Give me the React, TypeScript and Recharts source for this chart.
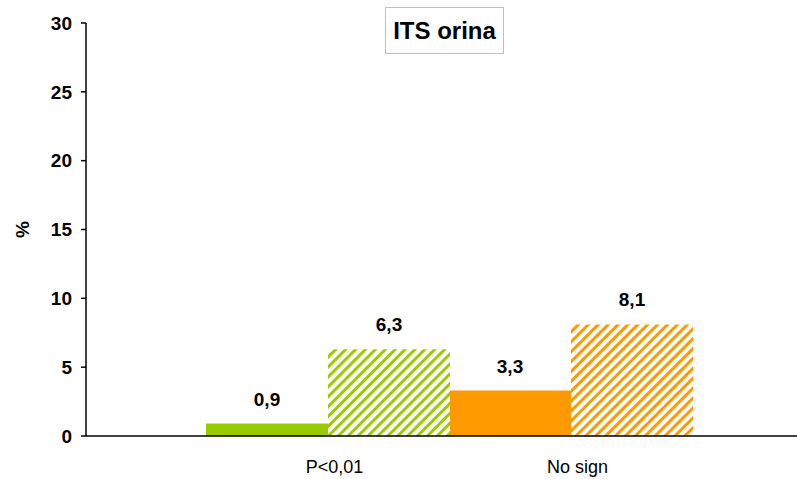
import React from 'react'
import { BarChart, Bar, XAxis, YAxis, Cell, LabelList, Label } from 'recharts'

const categories = ['P<0,01', 'No sign']
const solidValues = [0.9, 3.3]
const hatchedValues = [6.3, 8.1]
const yTicks = [0, 5, 10, 15, 20, 25, 30]

const solidColors = ['#99CC00', '#FF9900']
const hatchIds = ['hatchGreen', 'hatchOrange']

const data = categories.map((name, i) => ({
  name,
  solid: solidValues[i],
  hatched: hatchedValues[i],
}))

const FONT = '"Liberation Sans", Arial, sans-serif'

const commaFormat = (v: any) => String(v).replace('.', ',')

export default function App() {
  return (
    <div
      style={{
        position: 'absolute',
        left: 0,
        top: 0,
        width: 797,
        height: 479,
        background: '#fff',
        fontFamily: FONT,
      }}
    >
      <BarChart
        width={797}
        height={479}
        data={data}
        margin={{ top: 23, right: 0, left: 0, bottom: 0 }}
        barCategoryGap={0}
        barGap={0}
      >
        <defs>
          {solidColors.map((c, i) => (
            <pattern
              key={hatchIds[i]}
              id={hatchIds[i]}
              patternUnits="userSpaceOnUse"
              width={7}
              height={7}
              patternTransform="rotate(45)"
            >
              <rect x={0} y={0} width={7} height={7} fill="#fff" />
              <rect x={0} y={0} width={3} height={7} fill={c} />
            </pattern>
          ))}
        </defs>
        <XAxis
          dataKey="name"
          height={43}
          padding={{ left: 120, right: 105 }}
          axisLine={{ stroke: '#000', strokeWidth: 1.5 }}
          tickLine={false}
          tickSize={0}
          tickMargin={24}
          tick={{ fill: '#000', fontSize: 18, fontFamily: FONT, dx: 7 }}
        />
        <YAxis
          width={86}
          domain={[0, 30]}
          ticks={yTicks}
          interval={0}
          axisLine={{ stroke: '#000', strokeWidth: 1.5 }}
          tickLine={{ stroke: '#000', strokeWidth: 1.5 }}
          tickSize={5}
          tickMargin={9}
          tick={{ fill: '#000', fontSize: 19, fontWeight: 'bold', fontFamily: FONT }}
        >
          <Label
            content={({ viewBox }: any) => {
              const cy = viewBox.y + viewBox.height / 2
              return (
                <text
                  x={22}
                  y={cy}
                  transform={`rotate(-90 22 ${cy})`}
                  textAnchor="middle"
                  dominantBaseline="central"
                  fontSize={19}
                  fontWeight="bold"
                  fontFamily={FONT}
                  fill="#000"
                >
                  %
                </text>
              )
            }}
          />
        </YAxis>
        <Bar dataKey="solid" isAnimationActive={false}>
          {data.map((d, i) => (
            <Cell key={d.name} fill={solidColors[i]} />
          ))}
          <LabelList
            dataKey="solid"
            position="top"
            offset={18}
            formatter={commaFormat}
            style={{ fill: '#000', fontSize: 19, fontWeight: 'bold', fontFamily: FONT }}
          />
        </Bar>
        <Bar dataKey="hatched" isAnimationActive={false}>
          {data.map((d, i) => (
            <Cell key={d.name} fill={`url(#${hatchIds[i]})`} />
          ))}
          <LabelList
            dataKey="hatched"
            position="top"
            offset={18}
            formatter={commaFormat}
            style={{ fill: '#000', fontSize: 19, fontWeight: 'bold', fontFamily: FONT }}
          />
        </Bar>
      </BarChart>
      <div
        style={{
          position: 'absolute',
          left: 385,
          top: 7,
          width: 119,
          height: 47,
          boxSizing: 'border-box',
          border: '1.5px solid #BFBFBF',
          display: 'flex',
          alignItems: 'center',
          justifyContent: 'center',
          fontSize: 24,
          fontWeight: 'bold',
          fontFamily: FONT,
          color: '#000',
          background: '#fff',
        }}
      >
        ITS orina
      </div>
    </div>
  )
}
